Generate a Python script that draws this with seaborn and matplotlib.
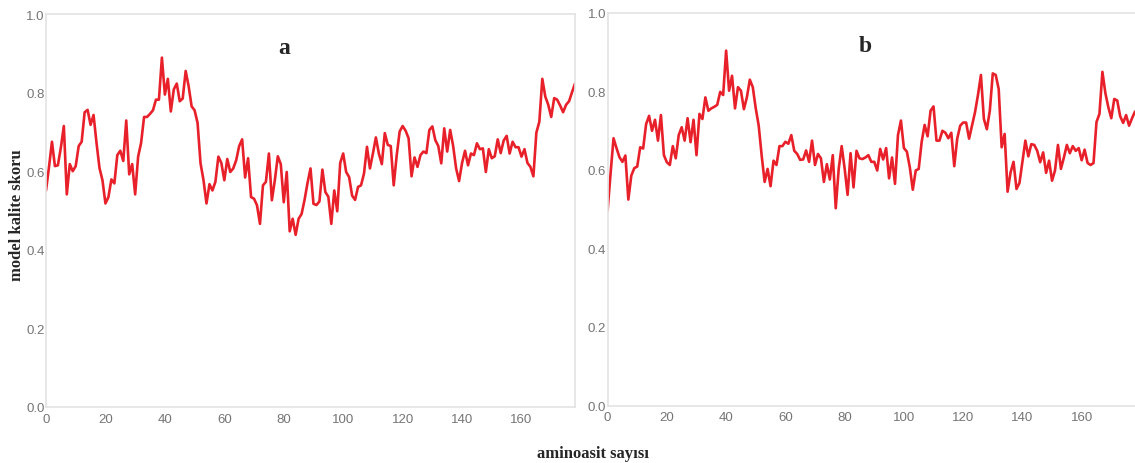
import numpy as np
import pandas as pd
import matplotlib
matplotlib.use("Agg")
import matplotlib.pyplot as plt
import seaborn as sns

# model quality score per residue
score_a = [
    0.551, 0.61, 0.675, 0.613, 0.615, 0.66, 0.715, 0.541, 0.618, 0.60,
    0.613, 0.664, 0.675, 0.75, 0.756, 0.718, 0.743, 0.672, 0.608, 0.577,
    0.518, 0.534, 0.579, 0.569, 0.641, 0.652, 0.626, 0.729, 0.592, 0.618,
    0.541, 0.637, 0.672, 0.738, 0.738, 0.746, 0.755, 0.782, 0.782, 0.889,
    0.795, 0.835, 0.752, 0.808, 0.823, 0.778, 0.785, 0.855, 0.816, 0.765,
    0.755, 0.723, 0.62, 0.577, 0.518, 0.567, 0.551, 0.573, 0.637, 0.621,
    0.577, 0.631, 0.598, 0.607, 0.628, 0.664, 0.681, 0.584, 0.633, 0.534,
    0.53, 0.513, 0.466, 0.564, 0.573, 0.645, 0.526, 0.577, 0.638, 0.618,
    0.521, 0.598, 0.447, 0.479, 0.438, 0.479, 0.491, 0.527, 0.57, 0.607,
    0.517, 0.514, 0.523, 0.604, 0.547, 0.535, 0.466, 0.551, 0.498, 0.621,
    0.645, 0.598, 0.585, 0.538, 0.527, 0.56, 0.564, 0.594, 0.662, 0.607,
    0.645, 0.686, 0.645, 0.618, 0.697, 0.667, 0.664, 0.564, 0.64, 0.701,
    0.715, 0.703, 0.684, 0.587, 0.635, 0.611, 0.641, 0.65, 0.646, 0.705,
    0.714, 0.679, 0.664, 0.62, 0.709, 0.65, 0.705, 0.664, 0.607, 0.575,
    0.621, 0.652, 0.615, 0.645, 0.641, 0.671, 0.656, 0.658, 0.598, 0.656,
    0.633, 0.638, 0.681, 0.646, 0.678, 0.69, 0.645, 0.675, 0.661, 0.661,
    0.637, 0.656, 0.621, 0.611, 0.587, 0.698, 0.726, 0.835, 0.79, 0.769,
    0.738, 0.786, 0.782, 0.767, 0.75, 0.769, 0.778, 0.801, 0.823,
]

score_b = [
    0.496, 0.59, 0.68, 0.655, 0.632, 0.62, 0.636, 0.524, 0.585, 0.604,
    0.608, 0.657, 0.654, 0.716, 0.737, 0.699, 0.727, 0.674, 0.739, 0.637,
    0.619, 0.612, 0.66, 0.629, 0.688, 0.708, 0.674, 0.731, 0.67, 0.727,
    0.637, 0.742, 0.729, 0.784, 0.75, 0.756, 0.76, 0.765, 0.798, 0.79,
    0.903, 0.801, 0.839, 0.756, 0.81, 0.801, 0.754, 0.784, 0.829, 0.81,
    0.756, 0.712, 0.636, 0.569, 0.602, 0.558, 0.623, 0.612, 0.66, 0.66,
    0.671, 0.666, 0.688, 0.648, 0.64, 0.625, 0.626, 0.649, 0.62, 0.674,
    0.612, 0.64, 0.629, 0.569, 0.614, 0.575, 0.637, 0.502, 0.602, 0.66,
    0.603, 0.536, 0.642, 0.555, 0.648, 0.629, 0.627, 0.631, 0.637, 0.62,
    0.62, 0.598, 0.653, 0.626, 0.655, 0.578, 0.631, 0.564, 0.688, 0.725,
    0.655, 0.646, 0.606, 0.549, 0.598, 0.602, 0.671, 0.714, 0.685, 0.75,
    0.761, 0.674, 0.674, 0.699, 0.694, 0.68, 0.694, 0.609, 0.679, 0.712,
    0.72, 0.72, 0.679, 0.712, 0.746, 0.79, 0.841, 0.729, 0.703, 0.75,
    0.845, 0.841, 0.805, 0.657, 0.691, 0.544, 0.593, 0.62, 0.551, 0.566,
    0.619, 0.674, 0.634, 0.665, 0.663, 0.648, 0.619, 0.644, 0.592, 0.623,
    0.572, 0.598, 0.663, 0.602, 0.631, 0.663, 0.642, 0.66, 0.648, 0.655,
    0.624, 0.651, 0.617, 0.612, 0.617, 0.721, 0.742, 0.849, 0.795, 0.759,
    0.731, 0.78, 0.776, 0.736, 0.719, 0.739, 0.712, 0.731, 0.748,
]

panels = ["a", "b"]
x_ticks = [0, 20, 40, 60, 80, 100, 120, 140, 160]
y_ticks = [0.0, 0.2, 0.4, 0.6, 0.8, 1.0]

sns.set_style("white")
plt.rcParams["font.family"] = ["Liberation Sans", "DejaVu Sans"]

line_color = "#e8202a"
frame_color = "#e3e3e3"
tick_color = "#757575"
serif = ["Liberation Serif", "DejaVu Serif"]

fig = plt.figure(figsize=(11.35, 4.64), dpi=100)
ax_a = fig.add_axes([46 / 1135, 1 - 408 / 464, 529 / 1135, 393 / 464])
ax_b = fig.add_axes([607.6 / 1135, 1 - 406.5 / 464, 527.4 / 1135, 393 / 464])

for ax, scores, name, lx in [(ax_a, score_a, "a", 0.45), (ax_b, score_b, "b", 0.488)]:
    df = pd.DataFrame({"residue": np.arange(len(scores)), "score": scores})
    sns.lineplot(data=df, x="residue", y="score", ax=ax, color=line_color,
                 linewidth=1.9)
    ax.set_xlim(0, 178)
    ax.set_ylim(0, 1)
    ax.set_xticks(x_ticks)
    ax.set_yticks(y_ticks)
    ax.set_yticklabels(["%.1f" % v for v in y_ticks])
    ax.tick_params(axis="both", length=0, labelsize=9.5, colors=tick_color)
    ax.tick_params(axis="x", pad=4)
    ax.tick_params(axis="y", pad=1)
    ax.set_xlabel("")
    ax.set_ylabel("")
    for s in ax.spines.values():
        s.set_color(frame_color)
        s.set_linewidth(1.2)
    ax.text(lx, 0.902, name, transform=ax.transAxes, ha="center", va="baseline",
            fontsize=17, fontweight="bold", family=serif)

# panel b runs off the right edge of the picture
ax_b.spines["right"].set_visible(False)

fig.text(0.015, 0.537, "model kalite skoru", rotation=90, ha="center", va="center",
         fontsize=12, fontweight="bold", family=serif)
fig.text(0.5225, 0.012, "aminoasit sayısı", ha="center", va="baseline",
         fontsize=12, fontweight="bold", family=serif)

fig.savefig("out.png", dpi=100)
